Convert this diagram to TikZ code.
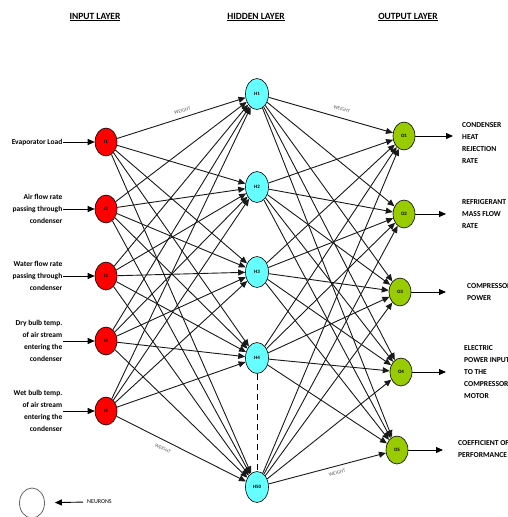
\documentclass[tikz,border=0pt]{standalone}
\usepackage{fontspec}
\setmainfont{Carlito}
\usepackage{tikz}
\usepackage{xcolor}
\usetikzlibrary{arrows.meta, shapes.geometric}

\definecolor{inred}{HTML}{FF0000}
\definecolor{hidcyan}{HTML}{66FFFF}
\definecolor{outgreen}{HTML}{99CC00}

\tikzset{
    neuron/.style={ellipse, draw=black, line width=0.6pt, inner sep=0pt,
        minimum width=22pt, minimum height=28pt,
        font=\fontsize{5}{6}\selectfont\bfseries},
    layertitle/.style={font=\fontsize{9.5}{11}\selectfont\bfseries},
    inlabel/.style={anchor=east, align=right, inner sep=0.5pt,
        font=\fontsize{7.5}{12}\selectfont\bfseries},
    outlabel/.style={anchor=west, align=left, inner sep=0pt,
        font=\fontsize{7.6}{12}\selectfont\bfseries},
    wire/.style={black!90, line width=0.9pt, -{Triangle[length=7pt,width=6pt]}},
    feed/.style={black, line width=0.9pt, -{Triangle[length=7pt,width=6pt]}},
    weightlbl/.style={sloped, gray!70!black, inner sep=0pt,
        font=\fontsize{5}{6}\selectfont}
}

\begin{document}
\begin{tikzpicture}[x=1pt,y=-1pt]
    \useasboundingbox (0,0) rectangle (507,517);

    % layer titles
    \node[layertitle] (tin) at (95,17) {\underline{INPUT LAYER}};
    \node[layertitle] (thid) at (256,17) {\underline{HIDDEN LAYER}};
    \node[layertitle] (tout) at (408,17) {\underline{OUTPUT LAYER}};

    % neurons
    \foreach \i/\y in {1/142,2/209,3/276,4/341,5/411}
        \node[neuron, fill=inred] (I\i) at (106,\y) {I\i};
    \foreach \n/\y in {1/94,2/187,3/272,4/358,50/487}
        \node[neuron, fill=hidcyan, minimum width=23pt, minimum height=31pt] (H\n) at (257,\y) {H\n};
    \foreach \i/\x/\y in {1/404/136,2/404/214,3/400/292,4/401/372,5/397/450}
        \node[neuron, fill=outgreen] (O\i) at (\x,\y) {O\i};

    % weights
    \foreach \i in {1,...,5}
        \foreach \n in {1,2,3,4,50}
            \draw[wire] (I\i) -- (H\n);
    \foreach \n in {1,2,3,4,50}
        \foreach \i in {1,...,5}
            \draw[wire] (H\n) -- (O\i);
    \draw[line width=0.7pt, dash pattern=on 6pt off 4pt] (H4) -- (H50);

    \path (I1.center) -- (H1.center) node[weightlbl, pos=0.52, above=5pt] (w1) {WEIGHT};
    \path (H1.center) -- (O1.center) node[weightlbl, pos=0.56, above=7pt] (w2) {WEIGHT};
    \path (I5.center) -- (H50.center) node[weightlbl, pos=0.40, below=6pt] (w3) {WEIGHT};
    \path (H50.center) -- (O5.center) node[weightlbl, pos=0.56, below=5pt] (w4) {WEIGHT};

    % inputs
    \node[inlabel] (x1) at (63,142) {Evaporator Load};
    \node[inlabel] (x2) at (63,209) {Air flow rate\\passing through\\condenser};
    \node[inlabel] (x3) at (63,276) {Water flow rate\\passing through\\condenser};
    \node[inlabel] (x4) at (63,341) {Dry bulb temp.\\of air stream\\entering the\\condenser};
    \node[inlabel] (x5) at (63,411) {Wet bulb temp.\\of air stream\\entering the\\condenser};
    \foreach \i in {1,...,5}
        \draw[feed] (x\i.east) -- (I\i);

    % outputs
    \node[outlabel] (y1) at (462,143.5) {CONDENSER\\HEAT\\REJECTION\\RATE};
    \node[outlabel] (y2) at (462,214.5) {REFRIGERANT\\MASS FLOW\\RATE};
    \node[outlabel] (y3) at (467,292) {COMPRESSOR\\POWER};
    \node[outlabel] (y4) at (464,372) {ELECTRIC\\POWER INPUT\\TO THE\\COMPRESSOR\\MOTOR};
    \node[outlabel] (y5) at (458,449) {COEFFICIENT OF\\PERFORMANCE};
    \coordinate (e1) at (453,136);
    \coordinate (e2) at (446,214);
    \coordinate (e3) at (446,292);
    \coordinate (e4) at (446,372);
    \coordinate (e5) at (443,450);
    \foreach \i in {1,...,5}
        \draw[feed] (O\i) -- (e\i);

    % legend
    \node[ellipse, draw=black!60, line width=0.8pt, minimum width=25pt, minimum height=30pt] (leg) at (32,503) {};
    \node[anchor=west, inner sep=0pt, font=\fontsize{6}{7}\selectfont] (neur) at (87,502) {NEURONS};
    \draw[feed, shorten >=10pt, shorten <=4pt] (neur.west) -- (leg);
\end{tikzpicture}
\end{document}
